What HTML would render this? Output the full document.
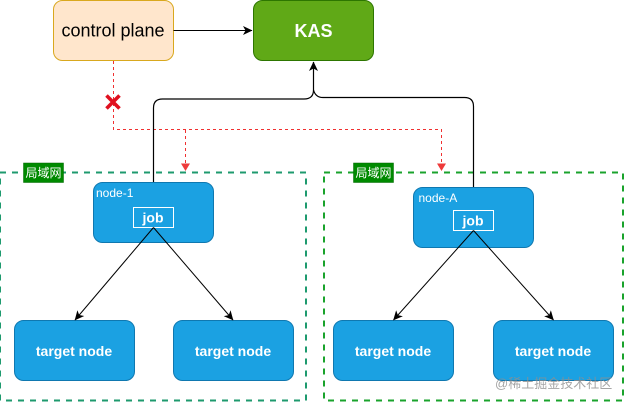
<!DOCTYPE html>
<html>
<head>
<meta charset="utf-8">
<style>
html,body{margin:0;padding:0;background:#fff;}
body{width:625px;height:402px;overflow:hidden;}
svg{display:block;}
text{font-family:"Liberation Sans","Noto Sans CJK SC",sans-serif;}
</style>
</head>
<body>
<svg width="625" height="402" viewBox="0 0 625 402" xmlns="http://www.w3.org/2000/svg">
<defs>
<marker id="a" markerWidth="11" markerHeight="11" refX="9" refY="5" orient="auto" markerUnits="userSpaceOnUse"><path d="M0 0.5L9.5 5L0 9.5L2.500 5Z" fill="#000"/></marker>
</defs>
<rect x="0" y="172.5" width="306" height="228" fill="none" stroke="#1e9a6e" stroke-width="2" stroke-dasharray="6 6"/>
<rect x="324" y="172.5" width="299" height="228" fill="none" stroke="#1aa32c" stroke-width="2" stroke-dasharray="6 6"/>
<rect x="23.5" y="163" width="40" height="19.5" fill="#008a00" stroke="#006600" stroke-width=".5"/>
<text x="43.5" y="177" font-size="12" fill="#fff" text-anchor="middle">局域网</text>
<rect x="353.5" y="163" width="40" height="19.5" fill="#008a00" stroke="#006600" stroke-width=".5"/>
<text x="373.5" y="177" font-size="12" fill="#fff" text-anchor="middle">局域网</text>

<rect x="53.5" y="0.5" width="120" height="60" rx="9" fill="#ffe6cc" stroke="#d9a81e"/>
<text x="113" y="36.500" font-size="18" fill="#000" text-anchor="middle">control plane</text>
<rect x="253.5" y="0.5" width="120" height="60" rx="9" fill="#60a917" stroke="#2d7600"/>
<text x="313.5" y="37" font-size="18" font-weight="bold" fill="#fff" text-anchor="middle">KAS</text>

<path d="M113.5 61V129.5H441.5V168" fill="none" stroke="#f03030" stroke-dasharray="3 3"/>
<path d="M185.5 130V168" fill="none" stroke="#f03030" stroke-dasharray="3 3"/>
<path d="M181 163.5L190 163.5L185.5 171Z" fill="#ee3b3b"/>
<path d="M437 163.5L446 163.5L441.5 171Z" fill="#ee3b3b"/>
<path d="M106.5 95.5L119.5 108.5M119.5 95.5L106.5 108.5" stroke="#e0101f" stroke-width="3.6"/>

<path d="M173.5 30.5H252" fill="none" stroke="#000" stroke-width="1.1" marker-end="url(#a)"/>
<path d="M153.5 183V108Q153.5 99 162.5 99H304Q313.5 99 313.5 90V62" fill="none" stroke="#000" stroke-width="1.2" marker-end="url(#a)"/>
<path d="M473.5 188V106.5Q473.5 97.5 464.5 97.5H323Q315.5 97.5 313.5 90" fill="none" stroke="#000" stroke-width="1.2"/>

<rect x="93.5" y="182.5" width="120" height="60" rx="9" fill="#1ba1e2" stroke="#0f78b0"/>
<text x="96" y="197" font-size="12" fill="#fff">node-1</text>
<rect x="133.5" y="207.5" width="40" height="20" fill="none" stroke="#fff"/>
<text x="153" y="222.500" font-size="14" font-weight="bold" fill="#fff" text-anchor="middle">job</text>

<rect x="413.5" y="187.5" width="120" height="60" rx="9" fill="#1ba1e2" stroke="#0f78b0"/>
<text x="418.500" y="202" font-size="12" fill="#fff">node-A</text>
<rect x="453.5" y="210.500" width="40" height="20" fill="none" stroke="#fff"/>
<text x="473" y="225.500" font-size="14" font-weight="bold" fill="#fff" text-anchor="middle">job</text>

<rect x="14.5" y="320.5" width="120" height="60" rx="9" fill="#1ba1e2" stroke="#0f78b0"/>
<rect x="173.5" y="320.5" width="120" height="60" rx="9" fill="#1ba1e2" stroke="#0f78b0"/>
<rect x="333.5" y="320.5" width="120" height="60" rx="9" fill="#1ba1e2" stroke="#0f78b0"/>
<rect x="493.5" y="320.5" width="120" height="60" rx="9" fill="#1ba1e2" stroke="#0f78b0"/>
<text x="74" y="356" font-size="14" font-weight="bold" fill="#fff" text-anchor="middle">target node</text>
<text x="233" y="356" font-size="14" font-weight="bold" fill="#fff" text-anchor="middle">target node</text>
<text x="393" y="356" font-size="14" font-weight="bold" fill="#fff" text-anchor="middle">target node</text>
<text x="553" y="356" font-size="14" font-weight="bold" fill="#fff" text-anchor="middle">target node</text>

<path d="M153.500 227.500L75 320" fill="none" stroke="#000" stroke-width="1" marker-end="url(#a)"/>
<path d="M153.500 227.500L233 320" fill="none" stroke="#000" stroke-width="1" marker-end="url(#a)"/>
<path d="M473.500 230.500L393.500 320" fill="none" stroke="#000" stroke-width="1" marker-end="url(#a)"/>
<path d="M473.500 230.500L553.500 320" fill="none" stroke="#000" stroke-width="1" marker-end="url(#a)"/>

<text x="495" y="388" font-size="13" fill="#8f8f8f" fill-opacity=".8">@稀土掘金技术社区</text>
</svg>
</body>
</html>
